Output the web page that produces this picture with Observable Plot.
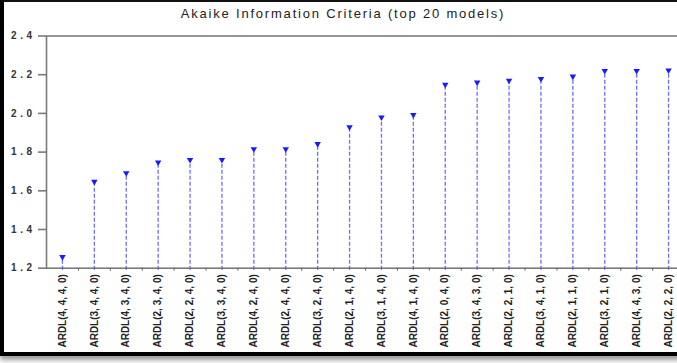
<!DOCTYPE html>
<html>
<head>
<meta charset="utf-8">
<script src="https://cdn.jsdelivr.net/npm/d3@7"></script>
<script src="https://cdn.jsdelivr.net/npm/@observablehq/plot@0.6"></script>
<style>
  html, body { margin: 0; padding: 0; background: #fff; width: 677px; height: 363px; overflow: hidden; }
  #frame {
    position: absolute; left: 0; top: 0; width: 720px; height: 350px;
    border-left: 4px solid #000; border-top: 2px solid #111; border-bottom: 4px solid #000;
    background: #fff; box-shadow: 0 4px 5px #9a9a9a; overflow: hidden;
  }
  #title {
    width: 678px; height: 18px; padding-top: 4px; line-height: 22px; text-align: center;
    font: 13px "Liberation Sans", Arial, sans-serif; letter-spacing: 1.8px; color: #222;
    overflow: visible;
  }
  #chart svg { display: block; overflow: hidden; max-width: none !important; }
  #chart [aria-label="y-axis tick label"] text { letter-spacing: 3.5px; }
</style>
</head>
<body>
<div id="frame">
  <div id="title">Akaike Information Criteria (top 20 models)</div>
  <div id="chart"></div>
</div>
<script>
// ARDL specifications, ordered by Akaike information criterion
const models = [
  "ARDL(4, 4, 4, 0)", "ARDL(3, 4, 4, 0)", "ARDL(4, 3, 4, 0)", "ARDL(2, 3, 4, 0)",
  "ARDL(2, 2, 4, 0)", "ARDL(3, 3, 4, 0)", "ARDL(4, 2, 4, 0)", "ARDL(2, 4, 4, 0)",
  "ARDL(3, 2, 4, 0)", "ARDL(2, 1, 4, 0)", "ARDL(3, 1, 4, 0)", "ARDL(4, 1, 4, 0)",
  "ARDL(2, 0, 4, 0)", "ARDL(3, 4, 3, 0)", "ARDL(2, 2, 1, 0)", "ARDL(3, 4, 1, 0)",
  "ARDL(2, 1, 1, 0)", "ARDL(3, 2, 1, 0)", "ARDL(4, 4, 3, 0)", "ARDL(2, 2, 2, 0)"
];
const aic = [
  1.258, 1.647, 1.692, 1.747, 1.760, 1.760, 1.816, 1.816, 1.842, 1.929,
  1.980, 1.993, 2.149, 2.160, 2.170, 2.179, 2.191, 2.220, 2.220, 2.223
];
const yTicks = [1.2, 1.4, 1.6, 1.8, 2.0, 2.2, 2.4];

const data = models.map((model, i) => ({model, aic: aic[i]}));

const stemColor = "#4848ff";
const font = "'Liberation Sans', Arial, sans-serif";

const chart = Plot.plot({
  width: 720,
  height: 328,
  marginTop: 11.5,
  marginBottom: 84.3,
  marginLeft: 42,
  marginRight: 40,
  style: {fontFamily: font, background: "#fff"},
  x: {type: "band", domain: models, padding: 0, round: false, label: null},
  y: {domain: [1.2, 2.4], label: null},
  marks: [
    Plot.frame({stroke: "#7a7a7a", strokeWidth: 1.6}),
    Plot.axisY({
      ticks: yTicks, tickFormat: d3.format(".1f"), tickSize: 8, tickPadding: 3,
      stroke: "#7a7a7a", strokeWidth: 1.6, fontSize: 10, fontWeight: "bold", fill: "#333", label: null
    }),
    // small tick marks on the boundaries between models
    Plot.axisX({ticks: models.slice(0, -1), tickSize: 3, dx: 16, text: null, stroke: "#666", label: null}),
    Plot.axisX({
      tickSize: 0, tickPadding: 6, tickRotate: -90, fontSize: 10, fontWeight: "bold",
      fill: "#222", label: null
    }),
    Plot.ruleX(data, {
      x: "model", y1: 1.2, y2: "aic", insetTop: 2,
      stroke: stemColor, strokeWidth: 1.3, strokeDasharray: "4,2", strokeOpacity: 0.8
    }),
    Plot.dot(data, {
      x: "model", y: "aic", symbol: "triangle", rotate: 180, r: 2.4,
      fill: "#1a1aff", stroke: "none"
    })
  ]
});
document.getElementById("chart").append(chart);
</script>
</body>
</html>
